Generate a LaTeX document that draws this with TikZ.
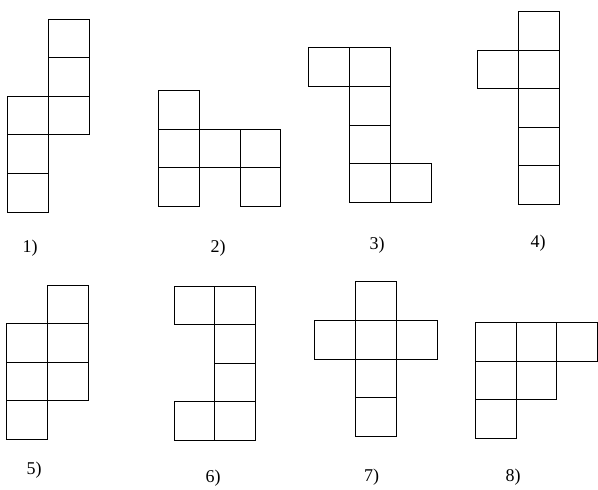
\documentclass[tikz,border=0pt]{standalone}
\usepackage{fontspec}
\setmainfont{Liberation Serif}
\usepackage{tikz}

\begin{document}
\begin{tikzpicture}[x=1pt,y=-1pt,line width=0.8pt]
    % page frame
    \useasboundingbox (0,0) rectangle (598,490);
    \tikzset{netlabel/.style={font=\fontsize{18}{20}\selectfont,inner sep=0pt}}
    \def\cw{40.8}
    \def\ch{38.6}
    % Net 1
    \foreach \c/\r in {1/0,1/1,0/2,1/2,0/3,0/4}
      \draw (7.3+\c*\cw,19+\r*\ch) rectangle ++(\cw,\ch);
    \node[netlabel] (lab1) at (30,248) {1)};
    % Net 2
    \foreach \c/\r in {0/0,0/1,1/1,2/1,0/2,2/2}
      \draw (158.3+\c*\cw,90.3+\r*\ch) rectangle ++(\cw,\ch);
    \node[netlabel] (lab2) at (218,248) {2)};
    % Net 3
    \foreach \c/\r in {0/0,1/0,1/1,1/2,1/3,2/3}
      \draw (308.7+\c*\cw,47.7+\r*\ch) rectangle ++(\cw,\ch);
    \node[netlabel] (lab3) at (377,245) {3)};
    % Net 4
    \foreach \c/\r in {1/0,0/1,1/1,1/2,1/3,1/4}
      \draw (477.7+\c*\cw,11.3+\r*\ch) rectangle ++(\cw,\ch);
    \node[netlabel] (lab4) at (538,243) {4)};
    % Net 5
    \foreach \c/\r in {1/0,0/1,1/1,0/2,1/2,0/3}
      \draw (6.3+\c*\cw,285+\r*\ch) rectangle ++(\cw,\ch);
    \node[netlabel] (lab5) at (34,470) {5)};
    % Net 6
    \foreach \c/\r in {0/0,1/0,1/1,1/2,0/3,1/3}
      \draw (174+\c*\cw,286+\r*\ch) rectangle ++(\cw,\ch);
    \node[netlabel] (lab6) at (213,478) {6)};
    % Net 7
    \foreach \c/\r in {1/0,0/1,1/1,2/1,1/2,1/3}
      \draw (314.7+\c*\cw,281.7+\r*\ch) rectangle ++(\cw,\ch);
    \node[netlabel] (lab7) at (371.7,477) {7)};
    % Net 8
    \foreach \c/\r in {0/0,1/0,2/0,0/1,1/1,0/2}
      \draw (475.2+\c*\cw,322.3+\r*\ch) rectangle ++(\cw,\ch);
    \node[netlabel] (lab8) at (513,477) {8)};
  \end{tikzpicture}
\end{document}
